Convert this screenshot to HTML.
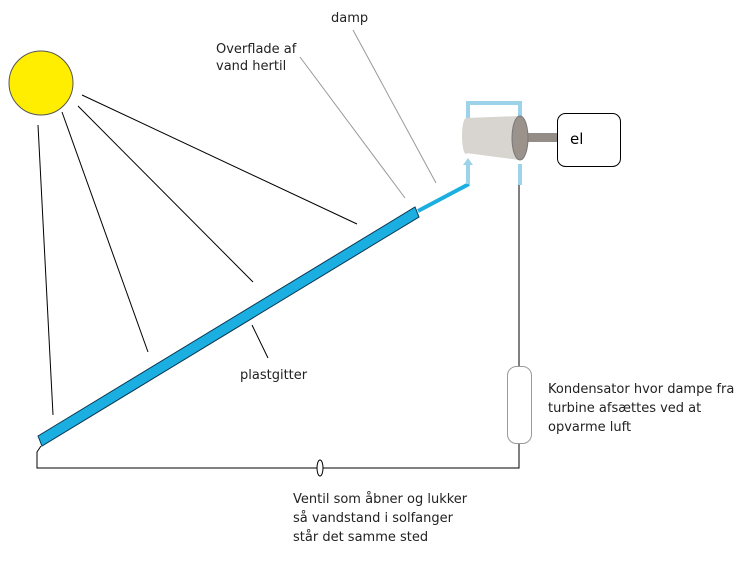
<!DOCTYPE html>
<html><head><meta charset="utf-8"><style>
body{margin:0;background:#fff;}
svg{display:block;}
text{font-family:"DejaVu Sans","Liberation Sans",sans-serif;font-size:13px;fill:#222;}
</style></head><body>
<svg width="751" height="562" viewBox="0 0 751 562" xmlns="http://www.w3.org/2000/svg">
<circle cx="41" cy="83" r="32" fill="#ffee00" stroke="#555" stroke-width="1"/>
<g stroke="#000" stroke-width="1">
<line x1="38" y1="125" x2="53" y2="415"/>
<line x1="62" y1="112" x2="148" y2="352"/>
<line x1="78" y1="106" x2="253" y2="282"/>
<line x1="82" y1="95" x2="357" y2="224"/>
<line x1="252" y1="325" x2="268" y2="358"/>
</g>
<g stroke="#999" stroke-width="1">
<line x1="300" y1="57" x2="405" y2="198"/>
<line x1="353" y1="30" x2="436" y2="183"/>
</g>
<polygon points="38,436 415,207 419,217 42,446" fill="#1aafe0" stroke="#0a3550" stroke-width="1"/>
<line x1="418" y1="211" x2="469" y2="184" stroke="#1aafe0" stroke-width="4"/>
<g stroke="#9dd3ea" stroke-width="4" fill="none">
<polyline points="468,152 468,103 520,103 520,118"/>
<line x1="468" y1="184" x2="468" y2="164"/>
<line x1="520" y1="164" x2="520" y2="185"/>
</g>
<polygon points="468,158 463,165 473,165" fill="#9dd3ea"/>
<polygon points="466,118 520,116 520,160 466,153" fill="#d8d4d0"/>
<ellipse cx="466" cy="136" rx="4" ry="18" fill="#d8d4d0"/>
<rect x="520" y="133" width="38" height="9" fill="#948c86"/>
<ellipse cx="520" cy="138" rx="8" ry="22" fill="#9c928c" stroke="#777"/>
<rect x="557.5" y="113.5" width="63" height="53" rx="8" fill="#fff" stroke="#000"/>
<text x="570" y="144" style="font-size:15px;fill:#000">el</text>
<line x1="519" y1="185" x2="519" y2="366" stroke="#000"/>
<rect x="507.5" y="366.5" width="24" height="77" rx="9" fill="#fff" stroke="#999"/>
<polyline points="519,444 519,468 37,468 37,452 41,446" fill="none" stroke="#000"/>
<ellipse cx="320" cy="468" rx="3" ry="8" fill="#fff" stroke="#000"/>
<text x="331" y="22">damp</text>
<text x="216" y="53">Overflade af</text>
<text x="216" y="70">vand hertil</text>
<text x="240" y="379">plastgitter</text>
<text x="548" y="393">Kondensator hvor dampe fra</text>
<text x="548" y="412">turbine afsættes ved at</text>
<text x="548" y="431">opvarme luft</text>
<text x="293" y="503">Ventil som åbner og lukker</text>
<text x="293" y="522">så vandstand i solfanger</text>
<text x="293" y="541">står det samme sted</text>
</svg>
</body></html>
